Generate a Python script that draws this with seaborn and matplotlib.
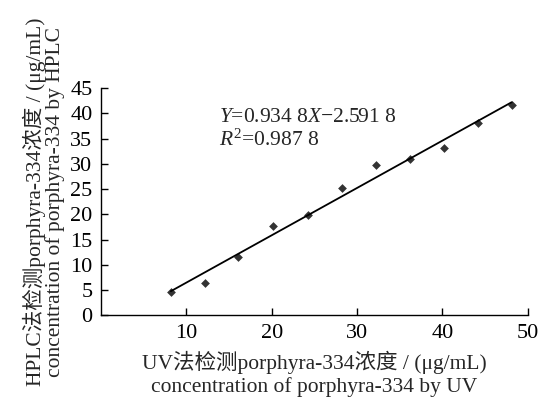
import matplotlib
matplotlib.use("Agg")
import matplotlib.pyplot as plt
import seaborn as sns
import pandas as pd

uv_conc = [8.2, 12.2, 16.1, 20.1, 24.2, 28.2, 32.2, 36.2, 40.2, 44.2, 48.1]
hplc_conc = [4.6, 6.4, 11.5, 17.6, 19.9, 25.2, 29.7, 30.9, 33.1, 38.0, 41.7]
x_ticks = [10, 20, 30, 40, 50]
y_ticks = [0, 5, 10, 15, 20, 25, 30, 35, 40, 45]
eq_text = r"$Y$=0.934 8$X$−2.591 8"
r2_text = r"$R^{\mathrm{2}}$=0.987 8"
x_label = "UV法检测porphyra-334浓度 / (μg/mL)\nconcentration of porphyra-334 by UV"
y_label = "HPLC法检测porphyra-334浓度 / (μg/mL)\nconcentration of porphyra-334 by HPLC"

sns.set_style("ticks")
plt.rcParams['font.family'] = ['Liberation Serif', 'Noto Sans CJK SC', 'DejaVu Sans']
plt.rcParams['mathtext.fontset'] = 'custom'
plt.rcParams['mathtext.rm'] = 'Liberation Serif'
plt.rcParams['mathtext.it'] = 'Liberation Serif:italic'

df = pd.DataFrame({"uv": uv_conc, "hplc": hplc_conc})

fig = plt.figure(figsize=(5.42, 3.99), dpi=100)
ax = fig.add_axes([0.186, 0.21, 0.788, 0.569])
sns.regplot(data=df, x="uv", y="hplc", ax=ax, ci=None, truncate=True,
            marker="D", color="black",
            scatter_kws={"s": 20, "linewidths": 0},
            line_kws={"linewidth": 1.3})
ax.set_xlim(0, 50)
ax.set_ylim(0, 45)
ax.set_xticks(x_ticks)
ax.set_yticks(y_ticks)
ax.tick_params(direction="in", length=5, width=1, labelsize=16, colors="black", pad=6)
for s in ["top", "right"]:
    ax.spines[s].set_visible(False)
for s in ["left", "bottom"]:
    ax.spines[s].set_linewidth(1)
    ax.spines[s].set_color("black")
ax.set_xlabel(x_label, fontsize=15.5, linespacing=1.2, labelpad=6)
ax.set_ylabel(y_label, fontsize=15.5, linespacing=0.95, labelpad=4)
ax.text(13.8, 39.1, eq_text, fontsize=15.5, va="center", ha="left")
ax.text(13.8, 34.7, r2_text, fontsize=15.5, va="center", ha="left")

fig.savefig("out.png", dpi=100)
